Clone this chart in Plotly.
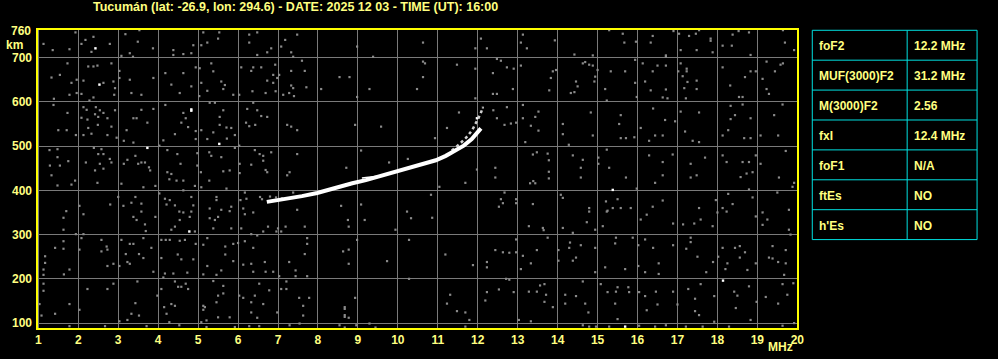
import plotly.graph_objects as go

# ---------------- data ----------------
title_text = "Tucumán (lat: -26.9, lon: 294.6) - DATE: 2025 12 03 - TIME (UT): 16:00"
x_ticks = list(range(1, 21))
y_ticks = [100, 200, 300, 400, 500, 600, 700]
y_top_label = 760

# main echo trace (frequency MHz, virtual height km)
o_mhz = [6.72, 6.95, 7.2, 7.6, 7.98, 8.3, 8.57, 8.86, 9.2, 9.55, 9.9, 10.25, 10.6, 10.95, 11.2, 11.45, 11.65, 11.85, 12.0, 12.08]
o_km = [374, 377, 381, 387, 394, 402, 410, 416, 423, 432, 440, 448, 457, 468, 478, 490, 501, 516, 530, 540]
# upper branch near the cusp
x_mhz = [11.35, 11.55, 11.72, 11.86, 11.98, 12.07, 12.13]
x_km = [490, 505, 520, 536, 557, 573, 588]
# faint second echo segment
e2_mhz = [9.1, 9.35, 9.6]
e2_km = [428, 430, 433]

# scattered noise dots (MHz, km)
noise_a = [(1.93,757),(2.18,740),(2.38,747),(2.33,713),(2.79,731),(3.18,753),(3.53,762),(3.49,736),(3.29,710),(3.37,702),(3.87,721),(4.38,717),(4.38,706),(4.63,708),(4.83,710),(4.88,728),(5.08,728),(5.13,757),(5.23,734),(5.53,757),(5.5,743),(1.13,731),(1.36,717),(1.78,719),(2.08,731),(3.08,704),
(1.73,687),(1.33,655),(1.54,661),(1.83,643),(1.78,616),(1.96,650),(2.13,648),(2.25,680),(2.38,680),(2.48,682),(2.08,618),(2.28,603),(2.38,610),(2.63,643),(2.83,687),(2.88,646),(2.92,631),(2.9,616),(3.03,670),(3.03,654),(3.29,650),(3.33,620),(3.58,616),(3.88,654),(4.18,665),(4.33,639),(4.63,665),(4.54,620),(4.83,635),(4.94,678),(5.04,676),(5.08,643),(5.33,687),(5.38,669),(5.58,646),(5.63,629),(5.67,638),(5.23,625),(5.88,616),(5.03,613),(1.39,607),(1.96,620),
(1.38,593),(1.73,575),(1.5,536),(1.71,536),(1.94,525),(2.13,588),(2.21,582),(2.08,564),(2.23,560),(2.44,588),(2.42,572),(2.54,581),(2.5,566),(2.63,575),(2.73,563),(2.49,548),(2.25,541),(2.33,528),(2.13,525),(2.73,525),(2.83,544),(2.92,581),(2.96,519),(3.21,536),(3.38,563),(3.46,563),(3.58,582),(3.73,553),(3.88,584),(3.14,512),(3.38,508),(4.18,593),(4.63,575),(4.69,563),(4.58,553),(4.75,543),(4.42,527),(4.13,513),(4.94,534),(4.94,516),(5.08,536),(5.29,598),(5.42,598),(5.54,566),(5.63,581),(5.54,548),(5.71,542),(5.83,541),(5.92,525),(5.38,531),(5.23,516),(5.72,517),
(1.28,491),(1.48,493),(1.48,475),(1.75,466),(1.29,456),(1.54,456),(1.33,434),(2.19,463),(2.39,496),(2.5,482),(2.58,493),(2.63,482),(2.54,460),(2.79,471),(2.83,463),(2.42,445),(2.63,449),(3.14,460),(3.23,469),(3.43,478),(3.5,460),(3.58,463),(3.67,463),(3.77,452),(3.8,445),(4.03,501),(4.23,491),(4.23,441),(4.33,437),(4.48,482),(4.56,460),(4.98,484),(4.98,456),(5.07,441),(5.28,486),(5.33,478),(5.58,475),(5.79,445),(5.63,443),(5.92,496)]
noise_b = [(1.48,411),(1.83,413),(1.92,422),(2.48,417),(3.08,415),(3.63,407),(3.93,410),(4.28,425),(4.46,422),(4.63,422),(4.63,400),(4.92,410),(5.28,422),(5.08,407),
(3.0,385),(2.8,368),(2.13,346),(2.03,365),(1.7,353),(1.63,338),(1.63,311),(1.94,301),(2.13,301),(3.13,365),(3.33,372),(3.43,385),(3.58,370),(3.38,340),(3.46,333),(3.58,352),(3.67,323),(3.69,308),(3.93,340),(4.03,393),(4.17,381),(4.21,368),(4.29,378),(4.42,366),(4.53,352),(4.63,350),(4.79,340),(4.83,352),(4.88,366),(4.83,385),(4.54,333),(4.42,318),(4.33,311),(5.46,385),(5.46,378),(5.29,359),(5.58,356),(5.79,353),(5.83,363),(5.29,337),(5.42,333),(5.38,314),(5.5,340),(5.83,314),(5.71,404),(4.92,307),
(1.17,251),(1.17,236),(1.13,221),(1.13,209),(1.42,270),(1.63,285),(1.63,268),(1.64,210),(1.78,221),(2.03,266),(2.08,292),(2.58,288),(2.71,273),(2.58,262),(2.73,266),(2.73,229),(2.88,234),(3.03,229),(3.08,288),(3.29,279),(3.38,279),(3.19,256),(3.23,238),(3.29,234),(3.52,256),(3.63,247),(3.83,270),(3.63,292),(3.88,216),(4.08,288),(4.19,288),(4.29,288),(4.08,247),(4.17,212),(4.38,212),(4.49,255),(4.58,244),(4.54,286),(4.67,288),(4.73,214),(4.88,244),(4.94,279),(5.13,277),(5.13,210),(5.23,292),(5.23,229),(5.46,209),(5.58,219),(5.68,273),(5.68,255),(5.88,240),(5.88,279),(4.13,203),
(1.13,189),(1.13,173),(1.03,143),(1.08,117),(1.42,121),(1.78,143),(2.03,130),(2.23,177),(2.73,177),(2.88,189),(3.48,194),(3.43,145),(3.33,121),(3.52,117),(3.23,107),(3.03,104),(4.08,177),(3.98,162),(4.15,136),(4.21,121),(4.33,143),(4.42,139),(4.28,102),(4.42,194),(4.5,182),(4.58,182),(4.69,189),(4.75,177),(5.13,130),(5.17,136),(5.38,195),(5.63,184),(5.63,167),(5.5,162),(5.46,147),(5.13,139),(5.5,113),(5.79,113),(5.08,102),(5.21,106),
(1.78,93),(2.67,93),(3.71,93),(4.53,95),(5.21,91),(5.92,91)]
noise_c = [(6.28,752),(6.48,757),(6.28,734),(6.48,706),(6.73,712),(6.83,721),(7.08,725),(7.18,740),(7.48,752),(7.33,712),(7.38,702),(8.98,725),(9.38,702),(10.63,734),
(6.08,678),(6.38,678),(6.58,678),(6.33,670),(6.73,648),(6.88,661),(6.88,643),(6.93,684),(6.98,654),(7.03,661),(6.03,616),(6.36,624),(6.69,620),(6.94,624),(7.13,616),(7.28,620),(7.33,637),(7.38,631),(7.4,613),(7.33,670),(7.6,693),(7.67,670),(7.71,633),(8.08,629),(8.54,656),(8.79,656),(9.29,629),(8.98,611),(10.63,691),(10.68,687),(10.63,656),(10.48,629),
(6.23,584),(6.38,598),(6.48,581),(6.58,568),(6.73,566),(6.2,553),(6.28,545),(6.43,548),(7.23,548),(7.33,544),(7.48,536),(8.93,548),(9.58,544),(10.93,518),(6.03,501),
(6.42,491),(6.54,482),(6.63,478),(6.63,467),(6.83,486),(6.04,460),(6.33,458),(6.69,446),(6.73,441),(6.04,439),(7.48,482),(7.29,441),(7.23,434),(9.08,490),(8.71,451),(9.78,463),(10.25,471),
(6.17,395),(6.06,378),(6.21,381),(6.13,359),(6.38,350),(6.17,346),(7.38,395),(7.48,356),(8.58,365),(9.08,368),(8.75,333),(9.17,333),(8.77,318),(7.67,318),(7.0,314),(7.19,318),(6.96,307),(7.08,307),(6.75,318),(6.63,307),(6.33,301),(6.48,298),(6.08,314),(10.23,352),(10.33,337),(10.83,390),(10.86,338),(9.94,311),
(7.73,292),(7.73,279),(6.38,270),(6.0,281),(6.17,285),(7.67,256),(8.63,262),(8.77,266),(8.77,234),(8.98,288),(9.73,240),(10.28,288),(6.67,238),(6.33,234),(6.13,232),(7.28,238),(6.38,216),(6.69,216),(6.88,216),(7.44,219),(7.03,206),(7.44,206),(7.73,206),(10.28,200),
(6.53,189),(6.78,174),(7.08,177),(7.21,177),(7.21,194),(6.03,162),(6.13,157),(6.42,162),(6.33,147),(6.63,143),(6.33,124),(6.48,112),(6.98,124),(7.53,157),(7.78,157),(7.63,139),(7.63,117),(8.67,136),(8.67,132),(8.67,118),(8.67,114),(8.77,112),(8.93,157),(6.28,93),(6.53,93),(7.29,95),(7.54,99),(8.54,95),(8.67,90),(8.96,95),(9.29,99),(9.44,90),
(6.55,385),(6.6,380),(6.8,386),(6.95,384),(7.1,382),(7.45,384),(8.75,414),(8.85,416)]
noise_d = [(12.08,743),(12.23,721),(11.94,721),(13.13,752),(13.08,734),(13.23,721),(13.93,739),(14.42,707),(14.88,705),(15.29,762),(15.63,754),(15.67,734),(15.96,736),(16.38,749),(16.33,734),(16.71,705),(16.9,760),(17.04,754),(17.08,717),(17.29,749),(17.46,754),(17.54,762),(17.48,717),(17.83,743),(17.83,738),(17.88,712),(18.13,727),(18.38,752),(18.36,727),(18.53,760),(18.79,757),(18.83,706),(19.64,762),(19.69,734),(19.92,717),
(11.48,684),(11.94,675),(12.38,665),(12.48,697),(12.58,693),(12.73,678),(12.9,675),(13.08,682),(12.88,629),(12.38,618),(12.48,618),(11.94,608),(13.79,626),(13.83,654),(13.88,669),(13.96,672),(14.33,620),(14.42,622),(14.5,635),(14.46,646),(14.63,687),(14.69,690),(14.79,684),(14.88,682),(14.92,646),(14.94,657),(15.0,672),(15.19,629),(15.23,603),(15.33,669),(15.69,669),(15.94,695),(15.94,643),(15.98,611),(16.13,687),(16.19,646),(16.33,626),(16.38,669),(16.5,682),(16.71,702),(16.71,682),(16.71,628),(16.75,608),(16.63,610),(17.08,687),(17.02,669),(17.13,658),(17.23,669),(17.23,675),(17.25,645),(17.17,631),(17.21,608),(17.48,648),(17.48,629),(18.13,678),(18.32,637),(18.69,656),(18.54,611),(18.63,611),(18.83,669),(18.96,669),(19.13,652),(19.23,691),(19.23,629),(19.29,618),(19.44,669),(19.58,684),(19.64,687)]
noise_e = [(11.53,576),(11.23,541),(12.13,587),(12.02,564),(12.39,581),(12.48,563),(12.73,588),(12.67,548),(12.83,551),(12.96,553),(13.13,563),(13.13,593),(13.33,546),(13.44,566),(13.52,578),(13.52,535),(13.19,509),(14.13,550),(14.13,527),(14.28,503),(14.83,576),(14.88,524),(15.58,570),(15.54,550),(15.58,518),(15.71,518),(15.92,520),(16.08,541),(16.29,512),(16.39,585),(16.44,524),(16.63,524),(16.69,559),(16.94,556),(17.08,578),(17.19,533),(17.38,512),(17.54,509),(17.54,576),(18.13,524),(18.27,536),(18.33,561),(18.33,591),(18.44,570),(18.63,594),(18.67,518),(18.83,563),(18.83,518),(19.08,524),(19.52,524),(19.63,594),(19.42,570),
(13.38,481),(13.48,486),(13.75,483),(13.78,468),(13.78,442),(13.78,427),(14.38,479),(14.63,469),(14.58,451),(14.58,429),(15.02,474),(15.02,460),(15.23,492),(15.29,451),(15.71,429),(15.98,404),(16.29,479),(16.63,464),(16.63,434),(16.44,417),(16.88,481),(17.33,460),(17.33,429),(17.48,434),(17.69,474),(18.13,479),(18.23,464),(18.63,464),(18.79,464),(18.73,438),(18.88,441),(18.58,430),(18.79,402),(18.96,479),(19.08,460),(19.71,489),(19.54,429),(19.88,408),(19.92,417),(12.44,451),(12.44,429),(11.98,447),(11.69,417),(11.04,408),(13.31,416),(13.39,421),(13.44,416)]
noise_f = [(12.67,395),(12.58,380),(12.63,371),(12.53,363),(12.96,380),(12.96,371),(13.38,369),(13.28,319),(13.63,315),(13.65,310),(14.08,390),(14.13,383),(14.13,315),(14.38,304),(14.79,360),(14.79,352),(14.73,328),(14.94,311),(15.13,319),(15.21,375),(15.23,352),(15.25,354),(15.38,360),(15.5,380),(15.58,360),(15.83,360),(16.08,334),(16.23,345),(16.38,363),(16.63,377),(16.89,325),(17.14,323),(17.42,325),(17.54,360),(17.58,334),(17.88,319),(17.96,378),(18.0,350),(18.13,360),(18.23,352),(18.27,392),(18.38,369),(18.88,384),(18.96,341),(19.13,350),(19.13,322),(19.25,334),(19.79,356),(19.79,311),(19.5,395),
(11.19,255),(11.88,231),(12.23,238),(12.23,226),(12.44,265),(12.63,260),(12.79,259),(12.96,260),(12.96,289),(13.13,252),(13.33,235),(13.48,265),(13.75,293),(13.08,222),(14.02,265),(14.02,241),(14.31,282),(14.29,270),(14.46,248),(14.58,276),(14.38,241),(14.94,270),(14.94,215),(15.19,226),(15.46,293),(15.44,280),(15.69,222),(15.88,293),(16.02,276),(16.02,229),(16.19,289),(16.19,215),(16.39,270),(16.53,235),(16.53,211),(16.89,276),(17.22,268),(17.33,293),(17.33,283),(17.5,250),(17.72,215),(17.89,238),(18.02,250),(18.13,270),(18.2,222),(18.25,235),(18.44,270),(18.56,248),(18.56,274),(18.69,260),(18.75,220),(18.96,235),(19.29,248),(19.38,246),(19.38,274),(19.52,238),(19.71,265),(19.71,235),(19.83,300),(19.67,209),
(11.31,164),(11.23,144),(11.48,127),(11.69,124),(11.79,107),(12.23,170),(12.19,151),(12.53,176),(12.71,200),(12.79,198),(12.9,170),(13.28,171),(13.48,171),(13.56,185),(13.67,188),(13.71,164),(13.67,148),(13.88,136),(14.19,164),(14.19,144),(14.46,161),(14.63,194),(14.69,144),(14.77,124),(15.08,188),(15.25,170),(15.46,171),(15.44,144),(15.5,181),(15.77,181),(15.79,170),(16.04,170),(16.19,161),(16.23,129),(16.46,171),(16.5,142),(16.89,171),(17.0,142),(17.27,177),(17.44,155),(17.44,127),(17.54,118),(17.58,188),(17.92,161),(18.42,171),(18.5,162),(18.46,134),(18.79,183),(18.98,148),(19.21,159),(19.52,144),(19.63,188),(19.75,164),(19.9,190),
(11.69,92),(13.03,107),(13.33,104),(14.63,95),(14.79,92),(14.96,92),(15.29,92),(15.5,109),(16.04,94),(16.44,92),(16.71,95),(17.21,92),(17.63,92),(17.92,103),(18.29,92),(18.83,107),(19.63,94),(19.92,100)]
# brighter isolated dots
white_dots = [(2.43,721),(2.53,639),(4.83,583),(4.83,580),(3.73,496),(5.53,505),(4.78,307),(15.38,401),(18.14,196),(15.69,92),(11.98,563)]

table_labels = ["foF2", "MUF(3000)F2", "M(3000)F2", "fxI", "foF1", "ftEs", "h'Es"]
table_values = ["12.2 MHz", "31.2 MHz", "2.56", "12.4 MHz", "N/A", "NO", "NO"]

# ---------------- styling / layout ----------------
W, H = 998, 359
L, R, T, B = 36, 798, 29, 333   # plot area in pixels
X_RANGE = [0.967, 20.017]
Y_RANGE = [86.6, 764.7]
YEL = "#ffff80"
FRAME = "#ffff00"
CYAN = "#00e0e0"
GRID = "#7a7a7a"
DOT = "#8a8a8a"
FONT = "Liberation Sans"

def px(xp):
    return (xp - L) / (R - L)

def py(yp):
    return (B - yp) / (B - T)

fig = go.Figure()

noise = noise_a + noise_b + noise_c + noise_d + noise_e + noise_f
fig.add_trace(go.Scatter(x=[p[0] for p in noise], y=[p[1] for p in noise], mode="markers",
                         marker=dict(symbol="square", size=2.2, color=DOT, line=dict(width=0)),
                         hoverinfo="skip", showlegend=False))
fig.add_trace(go.Scatter(x=[p[0] for p in white_dots], y=[p[1] for p in white_dots], mode="markers",
                         marker=dict(symbol="square", size=2.4, color="#ffffff", line=dict(width=0)),
                         hoverinfo="skip", showlegend=False))
fig.add_trace(go.Scatter(x=e2_mhz, y=e2_km, mode="lines", line=dict(color="#ffffff", width=1.5),
                         hoverinfo="skip", showlegend=False))
fig.add_trace(go.Scatter(x=x_mhz, y=x_km, mode="lines", line=dict(color="#d0d0d0", width=2.5, dash="dot"),
                         hoverinfo="skip", showlegend=False))
fig.add_trace(go.Scatter(x=o_mhz, y=o_km, mode="lines", line=dict(color="#ffffff", width=4),
                         hoverinfo="skip", showlegend=False))

shapes = [dict(type="rect", xref="paper", yref="paper", x0=0, x1=1, y0=0, y1=1,
               line=dict(color=FRAME, width=2), layer="above")]

# table
tx0, tx1, tx2 = 812.3, 907.3, 977.3
ty0, rh = 30.3, 30.3
n = len(table_labels)
shapes.append(dict(type="rect", xref="paper", yref="paper", x0=px(tx0), x1=px(tx2),
                   y0=py(ty0), y1=py(ty0 + n * rh), line=dict(color=CYAN, width=1)))
shapes.append(dict(type="line", xref="paper", yref="paper", x0=px(tx1), x1=px(tx1),
                   y0=py(ty0), y1=py(ty0 + n * rh), line=dict(color=CYAN, width=1)))
annotations = []
for i in range(n):
    if i > 0:
        shapes.append(dict(type="line", xref="paper", yref="paper", x0=px(tx0), x1=px(tx2),
                           y0=py(ty0 + i * rh), y1=py(ty0 + i * rh), line=dict(color=CYAN, width=1)))
    yc = py(ty0 + (i + 0.5) * rh + 1)
    annotations.append(dict(xref="paper", yref="paper", x=px(tx0 + 5), y=yc, text=table_labels[i],
                            showarrow=False, xanchor="left", yanchor="middle",
                            font=dict(family=FONT, size=12, color=YEL, weight="bold")))
    annotations.append(dict(xref="paper", yref="paper", x=px(tx1 + 5), y=yc, text=table_values[i],
                            showarrow=False, xanchor="left", yanchor="middle",
                            font=dict(family=FONT, size=12, color=YEL, weight="bold")))

annotations.append(dict(xref="paper", yref="paper", x=px(90), y=py(7), text=title_text, showarrow=False,
                        xanchor="left", yanchor="middle",
                        font=dict(family=FONT, size=12.5, color=YEL, weight="bold")))
annotations.append(dict(xref="paper", yref="y", x=px(32), y=y_top_label, text=str(y_top_label), showarrow=False,
                        xanchor="right", yanchor="middle",
                        font=dict(family=FONT, size=12, color=YEL, weight="bold")))
annotations.append(dict(xref="paper", yref="paper", x=px(13.5), y=py(45), text="km", showarrow=False,
                        xanchor="center", yanchor="middle",
                        font=dict(family=FONT, size=12, color=YEL, weight="bold")))
annotations.append(dict(xref="paper", yref="paper", x=px(780), y=py(351), text="MHz", showarrow=False,
                        xanchor="center", yanchor="middle",
                        font=dict(family=FONT, size=12, color=YEL, weight="bold")))

fig.update_layout(
    width=W, height=H,
    margin=dict(l=L, r=W - R, t=T, b=H - B, pad=0),
    paper_bgcolor="#000000", plot_bgcolor="#000000",
    showlegend=False,
    shapes=shapes, annotations=annotations,
    xaxis=dict(range=X_RANGE, tickvals=x_ticks, ticktext=[str(v) for v in x_ticks],
               showgrid=True, gridcolor=GRID, gridwidth=1, zeroline=False, showline=False,
               ticks="", ticklabelstandoff=2,
               tickfont=dict(family=FONT, size=12, color=YEL, weight="bold"),
               fixedrange=True),
    yaxis=dict(range=Y_RANGE, tickvals=y_ticks, ticktext=[str(v) for v in y_ticks],
               showgrid=True, gridcolor=GRID, gridwidth=1, zeroline=False, showline=False,
               ticks="", ticklabelstandoff=4,
               tickfont=dict(family=FONT, size=12, color=YEL, weight="bold"),
               fixedrange=True),
)

fig.write_html("out.html", config={"displayModeBar": False})
